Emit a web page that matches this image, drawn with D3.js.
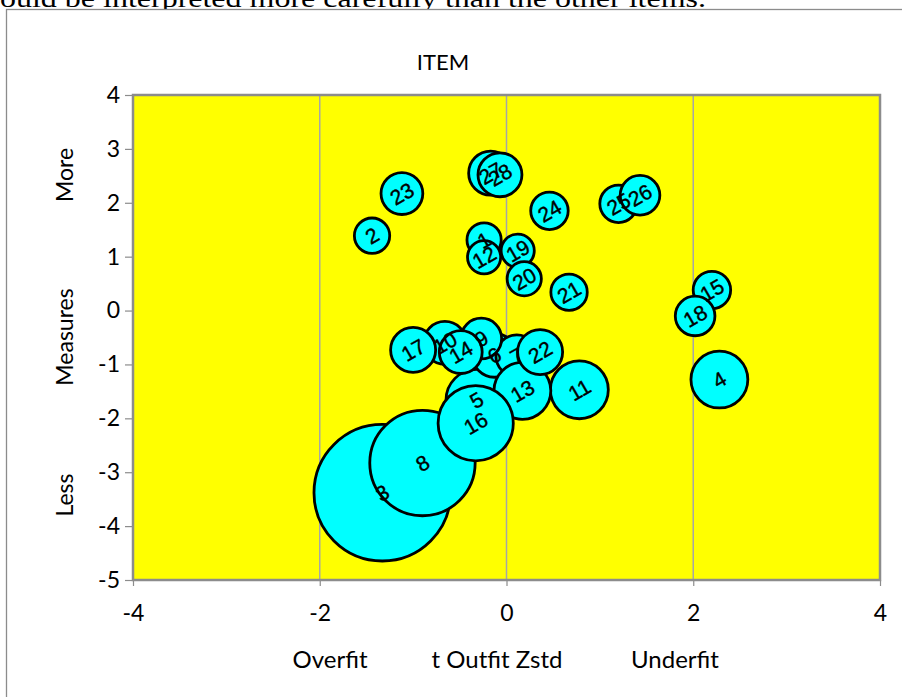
<!DOCTYPE html>
<html>
<head>
<meta charset="utf-8">
<script src="https://cdn.jsdelivr.net/npm/d3@7"></script>
<style>
  html, body { margin: 0; padding: 0; background: #fff; overflow: hidden; }
  svg { display: block; }
</style>
</head>
<body>
<svg id="chart" width="902" height="697"></svg>
<script>
// Item bubble chart: measure vs. t Outfit Zstd, bubble radius = standard error
const items      = ["1","2","3","4","5","6","7","8","9","10","11","12","13","14",
                    "15","16","17","18","19","20","21","22","23","24","25","26","27","28"];
const outfitZstd = [-0.24,-1.44,-1.33, 2.28,-0.32,-0.13, 0.11,-0.90,-0.27,-0.66, 0.78,-0.24, 0.17,-0.49,
                     2.20,-0.33,-1.00, 2.02, 0.12, 0.19, 0.67, 0.36,-1.12, 0.46, 1.20, 1.43,-0.17,-0.07];
const measures   = [ 1.31, 1.39,-3.38,-1.28,-1.66,-0.83,-0.84,-2.83,-0.52,-0.60,-1.47, 0.99,-1.49,-0.77,
                     0.38,-2.09,-0.73,-0.10, 1.11, 0.59, 0.34,-0.77, 2.17, 1.85, 1.98, 2.14, 2.55, 2.52];
const stdErrors  = [ 0.34, 0.35, 1.29, 0.55, 0.59, 0.43, 0.41, 1.00, 0.40, 0.42, 0.56, 0.33, 0.55, 0.42,
                     0.37, 0.72, 0.44, 0.39, 0.33, 0.34, 0.36, 0.44, 0.41, 0.37, 0.37, 0.39, 0.43, 0.43];

const xTicks = [-4, -2, 0, 2, 4];
const yTicks = [-5, -4, -3, -2, -1, 0, 1, 2, 3, 4];
const xGrid  = [-2, 0, 2];

const svg = d3.select("#chart");
const plot = { left: 133, right: 880, top: 95, bottom: 580 };

const x = d3.scaleLinear().domain([-4, 4]).range([plot.left, plot.right]);
const y = d3.scaleLinear().domain([-5, 4]).range([plot.bottom, plot.top]);
// radius in pixels equals the standard error in measure units
const r = se => y(0) - y(se);

// caption fragment above the chart frame
svg.append("text")
  .attr("x", 0).attr("y", 7)
  .attr("font-family", "'Liberation Serif', 'DejaVu Serif', serif")
  .attr("font-size", 25)
  .attr("fill", "#000")
  .attr("textLength", 706)
  .attr("lengthAdjust", "spacingAndGlyphs")
  .text("ould be interpreted more carefully than the other items.");

// chart frame
svg.append("rect")
  .attr("x", 6.5).attr("y", 9.5)
  .attr("width", 1000).attr("height", 1000)
  .attr("fill", "#fff")
  .attr("stroke", "#8c8c8c").attr("stroke-width", 1.3);

const font = "Lato, 'Open Sans', 'Liberation Sans', sans-serif";

// title
svg.append("text")
  .attr("x", 443).attr("y", 70)
  .attr("text-anchor", "middle")
  .attr("font-family", font).attr("font-size", 22)
  .text("ITEM");

// plot background
svg.append("rect")
  .attr("x", plot.left).attr("y", plot.top)
  .attr("width", plot.right - plot.left).attr("height", plot.bottom - plot.top)
  .attr("fill", "#ffff00");

// vertical gridlines
svg.append("g").selectAll("line").data(xGrid).join("line")
  .attr("x1", d => x(d)).attr("x2", d => x(d))
  .attr("y1", plot.top).attr("y2", plot.bottom)
  .attr("stroke", "#a6a6a6").attr("stroke-width", 1.5);

// axes
const fmt = d => String(d);
const yAxis = svg.append("g")
  .attr("transform", `translate(${plot.left},0)`)
  .call(d3.axisLeft(y).tickValues(yTicks).tickSize(8).tickPadding(5).tickFormat(fmt));
const xAxis = svg.append("g")
  .attr("transform", `translate(0,${plot.bottom})`)
  .call(d3.axisBottom(x).tickValues(xTicks).tickSize(6).tickPadding(19).tickFormat(fmt));

[yAxis, xAxis].forEach(g => {
  g.select(".domain").remove();
  g.selectAll(".tick line").attr("stroke", "#8c8c8c").attr("stroke-width", 1.2);
  g.selectAll(".tick text")
    .attr("font-family", font).attr("font-size", 23).attr("fill", "#000");
});

// plot border
svg.append("rect")
  .attr("x", plot.left).attr("y", plot.top)
  .attr("width", plot.right - plot.left).attr("height", plot.bottom - plot.top)
  .attr("fill", "none")
  .attr("stroke", "#8c8c8c").attr("stroke-width", 2.5);

// bubbles first, then all item labels above them
const data = items.map((id, i) => ({ id, x: outfitZstd[i], y: measures[i], se: stdErrors[i] }));

svg.append("g").selectAll("circle").data(data).join("circle")
  .attr("cx", d => x(d.x)).attr("cy", d => y(d.y))
  .attr("r", d => r(d.se) - 1.2)
  .attr("fill", "#00ffff")
  .attr("stroke", "#000").attr("stroke-width", 2.8);

svg.append("g").selectAll("text").data(data).join("text")
  .attr("transform", d => `translate(${x(d.x)},${y(d.y)}) rotate(-30)`)
  .attr("text-anchor", "middle")
  .attr("dy", "0.36em")
  .attr("font-family", "'Liberation Sans', Arial, sans-serif")
  .attr("font-size", 21)
  .attr("fill", "#000")
  .attr("stroke", "#000").attr("stroke-width", 0.4)
  .text(d => d.id);

// axis titles
const yTitle = [["More", 175], ["Measures", 337], ["Less", 495]];
svg.append("g").selectAll("text").data(yTitle).join("text")
  .attr("transform", d => `translate(73,${d[1]}) rotate(-90)`)
  .attr("text-anchor", "middle")
  .attr("font-family", font).attr("font-size", 23)
  .text(d => d[0]);

const xTitle = [["Overfit", 330], ["t Outfit Zstd", 497], ["Underfit", 675]];
svg.append("g").selectAll("text").data(xTitle).join("text")
  .attr("x", d => d[1]).attr("y", 668)
  .attr("text-anchor", "middle")
  .attr("font-family", font).attr("font-size", 24)
  .text(d => d[0]);
</script>
</body>
</html>
